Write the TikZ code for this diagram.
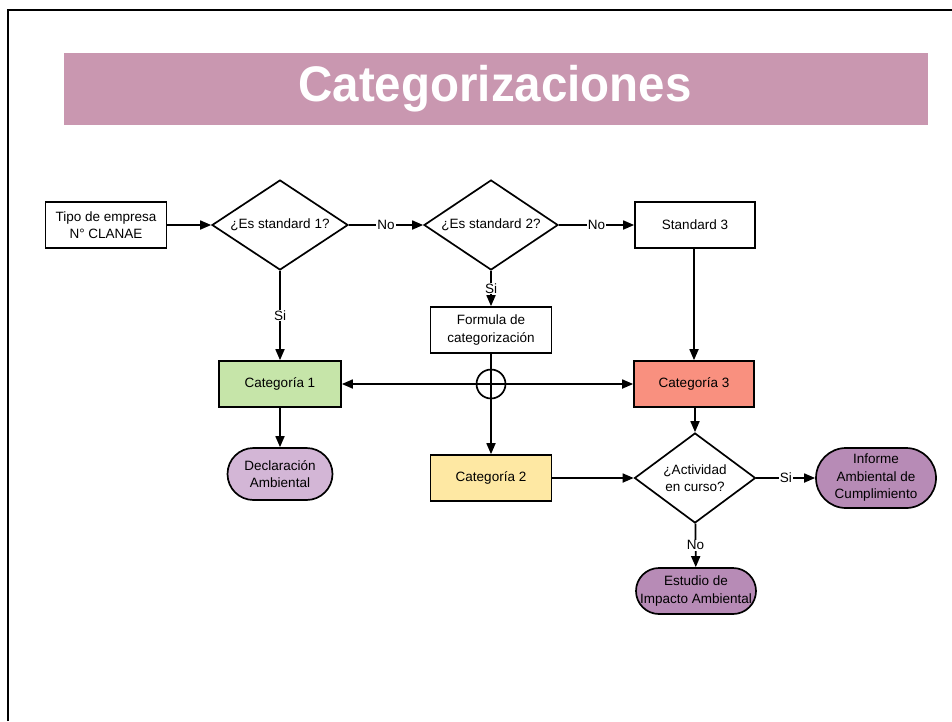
\documentclass[tikz,border=0pt]{standalone}
\usepackage{fontspec}
\setmainfont{Liberation Sans}
\usetikzlibrary{shapes.geometric,arrows.meta}
\definecolor{headpink}{HTML}{C997B0}
\definecolor{catgreen}{HTML}{C6E5A9}
\definecolor{catred}{HTML}{F9907F}
\definecolor{catyellow}{HTML}{FEE8A3}
\definecolor{lightpurple}{HTML}{D3B6D6}
\definecolor{darkpurple}{HTML}{B78BB6}
\tikzset{
  every node/.style={font=\fontsize{13.5}{17.5}\selectfont, align=center},
  box/.style={draw, line width=1.7pt, rectangle, inner sep=2pt, minimum width=121pt, minimum height=46pt},
  dec/.style={draw, line width=1.7pt, diamond, inner sep=0pt, aspect=1.5},
  term/.style={draw, line width=1.7pt, rectangle, rounded corners=23pt, inner sep=1pt},
  conn/.style={line width=1.7pt},
  arr/.style={line width=1.7pt, -{Triangle[length=11pt,width=9pt]}},
  lab/.style={fill=white, inner sep=1pt}
}
\begin{document}
\begin{tikzpicture}[x=1pt,y=-1pt]
\useasboundingbox (0,0) rectangle (952,721);
\fill[white] (0,0) rectangle (952,721);
% frame
\draw[line width=2.5pt] (8,721) -- (8,10) -- (952,10);
% header
\fill[headpink] (64,53) rectangle (928,125);
\node[font=\fontsize{50}{56}\selectfont\bfseries, text=white, xscale=0.95] (title) at (495,89) {Categorizaciones};
% nodes
\node[box] (tipo) at (106,225) {Tipo de empresa\\N° CLANAE};
\node[dec, minimum width=136pt, minimum height=90pt] (d1) at (280,225) {¿Es standard 1?};
\node[dec, minimum width=134pt, minimum height=90pt] (d2) at (491,225) {¿Es standard 2?};
\node[box, minimum width=120pt] (s3) at (695,225) {Standard 3};
\node[box, minimum width=121pt] (form) at (491,330) {Formula de\\categorización};
\node[box, fill=catgreen, minimum width=122pt] (c1) at (280,384) {Categoría 1};
\node[box, fill=catred, minimum width=120pt] (c3) at (694,384) {Categoría 3};
\node[draw, circle, line width=1.7pt, minimum size=29pt, inner sep=0pt] (x) at (491,384) {};
\node[box, fill=catyellow, minimum width=121pt] (c2) at (491,478) {Categoría 2};
\node[term, fill=lightpurple, minimum width=105pt, minimum height=52pt, rounded corners=26pt] (decl) at (280,474) {Declaración\\Ambiental};
\node[dec, minimum width=121pt, minimum height=90pt] (d3) at (695,478) {¿Actividad\\en curso?};
\node[term, fill=darkpurple, minimum width=120pt, minimum height=60pt, rounded corners=30pt] (inf) at (876,478) {Informe\\Ambiental de\\Cumplimiento};
\node[term, fill=darkpurple, minimum width=120pt, minimum height=46pt, inner sep=0pt] (est) at (696,591) {Estudio de\\Impacto Ambiental};
% connectors
\draw[arr] (tipo) -- (d1);
\draw[arr] (d1) -- node[lab] {No} (d2);
\draw[arr] (d2) -- node[lab] {No} (s3);
\draw[arr] (d1) -- node[lab] {Si} (c1);
\draw[arr] (d2) -- node[lab] {Si} (form);
\draw[arr] (s3.south -| c3.north) -- (c3);
\draw[conn] (form) -- (x.center);
\draw[arr] (x.center) -- (c1);
\draw[arr] (x.center) -- (c3);
\draw[arr] (x.center) -- (c2);
\draw[arr] (c1) -- (decl);
\draw[arr] (c3.south -| d3.north) -- (d3);
\draw[arr] (c2) -- (d3);
\draw[arr] (d3) -- node[lab] {Si} (inf);
\draw[arr] (d3) -- node[lab] {No} (est);
\end{tikzpicture}
\end{document}
